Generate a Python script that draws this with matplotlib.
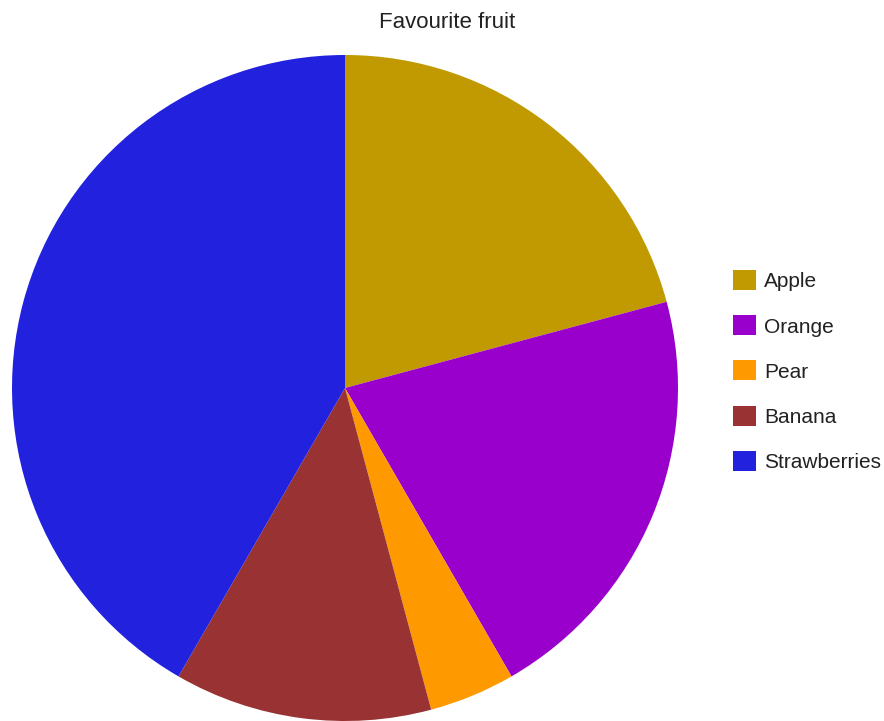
import matplotlib
matplotlib.use("Agg")
import matplotlib.pyplot as plt

fruits = ["Apple", "Orange", "Pear", "Banana", "Strawberries"]
votes = [5, 5, 1, 3, 10]
colors = ["#C09A00", "#9900CC", "#FF9900", "#993333", "#2121DE"]

plt.rcParams["font.family"] = ["Liberation Sans", "DejaVu Sans"]

W, H = 884, 721
fig = plt.figure(figsize=(W / 100, H / 100), dpi=100)
ax = fig.add_axes([12 / W, 0, 666 / W, 666 / H])

wedges, _ = ax.pie(votes, colors=colors, startangle=90, counterclock=False,
                   radius=1.0, wedgeprops=dict(linewidth=0))
ax.set_xlim(-1, 1)
ax.set_ylim(-1, 1)
ax.set_aspect("equal")
ax.axis("off")

fig.text(447 / W, 1 - 23 / H, "Favourite fruit", ha="center", va="center",
         fontsize=16, color="#222222")

fig.legend(wedges, fruits, loc="center left",
           bbox_to_anchor=(733 / W, 1 - 371 / H), frameon=False,
           borderpad=0, borderaxespad=0,
           fontsize=15, handlelength=1.1, handleheight=1.1,
           handletextpad=0.4, labelspacing=1.15, labelcolor="#222222")

fig.savefig("out.png", dpi=100)
